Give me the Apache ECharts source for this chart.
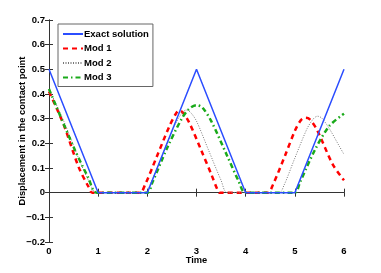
<!DOCTYPE html>
<html><head><meta charset="utf-8">
<script src="https://cdn.jsdelivr.net/npm/echarts@6/dist/echarts.min.js"></script>
<style>html,body{margin:0;padding:0;background:#fff}#c{width:381px;height:273px}</style>
</head><body><div id="c"></div>
<script>
var seriesNames = ['Exact solution', 'Mod 1', 'Mod 2', 'Mod 3'];
var exact = [[0,0.5],[1,0],[2,0],[3,0.5],[4,0],[5,0],[6,0.5]];
var mod1 = [[0,0.41],[0.3,0.275],[0.6,0.105],[0.8,0.025],[0.88,0],[1.85,0],[1.95,0.03],[2.2,0.15],[2.45,0.27],[2.58,0.32],[2.65,0.333],[2.72,0.325],[2.85,0.285],[3.1,0.17],[3.3,0.075],[3.42,0.015],[3.47,0],[4.45,0],[4.55,0.03],[4.8,0.15],[5.0,0.25],[5.12,0.293],[5.22,0.304],[5.3,0.298],[5.45,0.255],[5.77,0.115],[6,0.05]];
var mod2 = [[0,0.42],[0.3,0.29],[0.6,0.14],[0.85,0.03],[0.95,0],[1.95,0],[2.05,0.03],[2.3,0.15],[2.55,0.27],[2.7,0.322],[2.79,0.335],[2.88,0.325],[3.0,0.29],[3.25,0.17],[3.5,0.05],[3.63,0],[4.68,0],[4.78,0.03],[5.0,0.14],[5.25,0.26],[5.38,0.3],[5.46,0.31],[5.55,0.302],[5.7,0.26],[5.9,0.19],[6,0.155]];
var mod3 = [[0,0.42],[0.5,0.185],[0.8,0.06],[0.97,0],[2,0],[2.1,0.04],[2.4,0.18],[2.7,0.3],[2.85,0.34],[3.0,0.355],[3.12,0.345],[3.3,0.29],[3.6,0.16],[3.85,0.05],[4,0],[5,0],[5.1,0.04],[5.4,0.17],[5.7,0.27],[6,0.32]];
var xTicks = [0,1,2,3,4,5,6];
var yTicks = [-0.2,-0.1,0,0.1,0.2,0.3,0.4,0.5,0.6,0.7];

var font = 'Liberation Sans, Arial, sans-serif';
var chart = echarts.init(document.getElementById('c'), null, {renderer:'canvas'});
function yfmt(v){ v=Math.round(v*10)/10; if(v===0) return '0'; return (v<0?'\u2212':'')+Math.abs(v).toString(); }
var axisLine = {show:true, lineStyle:{color:'#333', width:1}};
var tick = {show:true, inside:true, length:4, lineStyle:{color:'#333'}};
var lab = {color:'#000', fontFamily:font, fontWeight:'bold', fontSize:9.5};
var nameStyle = {color:'#000', fontFamily:font, fontWeight:'bold', fontSize:9.3};
chart.setOption({
  animation:false,
  grid:{left:49, right:37, top:20, bottom:31, containLabel:false, outerBoundsMode:'none'},
  xAxis:[
    {type:'value', min:xTicks[0], max:xTicks[xTicks.length-1], interval:1, axisLine:axisLine, axisTick:tick, splitLine:{show:false},
     axisLabel:Object.assign({margin:4}, lab), name:'Time', nameLocation:'middle', nameGap:14, nameMoveOverlap:false,
     nameTextStyle:nameStyle},
    {type:'value', position:'top', min:0, max:6, interval:1, axisLine:axisLine, axisTick:tick, axisLabel:{show:false}, splitLine:{show:false}}
  ],
  yAxis:[
    {type:'value', min:yTicks[0], max:yTicks[yTicks.length-1], interval:0.1, axisLine:axisLine, axisTick:tick, splitLine:{show:false},
     axisLabel:Object.assign({margin:4, formatter:yfmt}, lab), name:'Displacement in the contact point', nameLocation:'middle', nameGap:22, nameMoveOverlap:false,
     nameTextStyle:nameStyle},
    {type:'value', position:'right', min:-0.2, max:0.7, interval:0.1, axisLine:axisLine, axisTick:tick, axisLabel:{show:false}, splitLine:{show:false}}
  ],
  legend:{
    orient:'vertical', left:58, top:24, padding:[5,4,4,4], itemGap:4.5, itemWidth:20, itemHeight:10,
    backgroundColor:'#fff', borderColor:'#666', borderWidth:1, borderRadius:0,
    itemStyle:{opacity:0},
    textStyle:{color:'#000', fontFamily:font, fontWeight:'bold', fontSize:9.5, padding:[0,0,0,-4]},
    data:seriesNames
  },
  series:[
    {name:seriesNames[0], type:'line', data:exact, symbol:'none', lineStyle:{color:'#2b4dff', width:1.5, type:'solid'}, itemStyle:{color:'#2b4dff'}, z:5},
    {name:seriesNames[1], type:'line', data:mod1, symbol:'none', smooth:0.3, lineStyle:{color:'#ff0000', width:2.5, type:[5,4]}, itemStyle:{color:'#ff0000'}, z:3},
    {name:seriesNames[2], type:'line', data:mod2, symbol:'none', smooth:0.3, lineStyle:{color:'#777777', width:1, type:[1,1.5]}, itemStyle:{color:'#777777'}, z:3},
    {name:seriesNames[3], type:'line', data:mod3, symbol:'none', smooth:0.3, lineStyle:{color:'#1aaa1a', width:2.5, type:[5,3,1.5,3]}, itemStyle:{color:'#1aaa1a'}, z:4}
  ]
});
</script></body></html>
